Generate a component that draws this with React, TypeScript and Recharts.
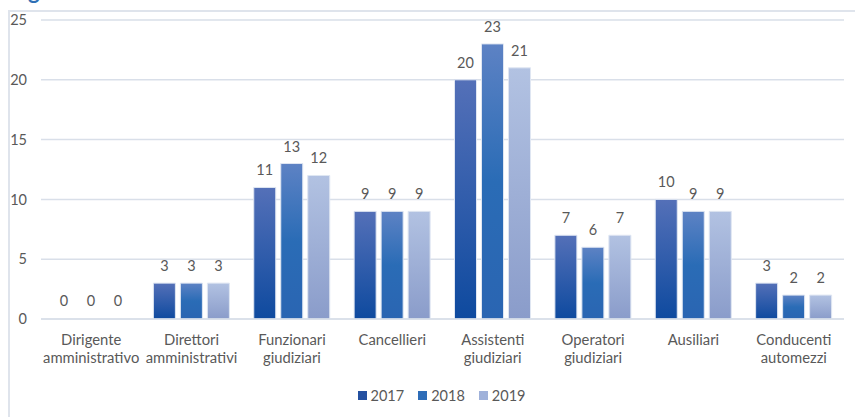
import React from "react";
import { BarChart, Bar, XAxis, YAxis, CartesianGrid, LabelList, Legend, Rectangle } from "recharts";

const categories = [
  "Dirigente\namministrativo",
  "Direttori\namministrativi",
  "Funzionari\ngiudiziari",
  "Cancellieri",
  "Assistenti\ngiudiziari",
  "Operatori\ngiudiziari",
  "Ausiliari",
  "Conducenti\nautomezzi",
];
const values2017 = [0, 3, 11, 9, 20, 7, 10, 3];
const values2018 = [0, 3, 13, 9, 23, 6, 9, 2];
const values2019 = [0, 3, 12, 9, 21, 7, 9, 2];
const yTicks = [0, 5, 10, 15, 20, 25];
const seriesNames = ["2017", "2018", "2019"];
const legendColors = ["#2450a0", "#2e6db8", "#9fb1da"];

const data = categories.map((c, i) => ({
  name: c,
  y2017: values2017[i],
  y2018: values2018[i],
  y2019: values2019[i],
}));

const FONT = "Lato, 'Open Sans', sans-serif";
const TEXT = "#595959";

const CatTick = (props: any) => {
  const { x, y, payload } = props;
  const lines = String(payload.value).split("\n");
  return (
    <g transform={`translate(${x},${y})`}>
      {lines.map((l, i) => (
        <text
          key={i}
          x={0}
          y={i * 18}
          dy={14}
          textAnchor="middle"
          fill={TEXT}
          fontSize={14.8}
          fontFamily={FONT}
        >
          {l}
        </text>
      ))}
    </g>
  );
};

const BarShape = (props: any) => {
  const { value } = props;
  const v = Array.isArray(value) ? value[1] - value[0] : value;
  if (!v) return null;
  return <Rectangle {...props} />;
};

const LegendContent = () => (
  <div
    style={{
      display: "flex",
      justifyContent: "center",
      alignItems: "center",
      fontFamily: FONT,
      fontSize: 14.5,
      color: TEXT,
    }}
  >
    {seriesNames.map((n, i) => (
      <span key={n} style={{ display: "inline-flex", alignItems: "center", margin: "0 7px" }}>
        <span
          style={{
            display: "inline-block",
            width: 9,
            height: 9,
            background: legendColors[i],
            marginRight: 4,
          }}
        />
        {n}
      </span>
    ))}
  </div>
);

export default function App() {
  return (
    <div style={{ position: "absolute", left: 0, top: 0, width: 855, height: 417, overflow: "hidden", background: "#fff" }}>
      <div
        style={{
          position: "absolute",
          left: 8,
          top: 10,
          width: 847,
          height: 407,
          borderTop: "2px solid #dfe4ec",
          borderLeft: "2px solid #dfe4ec",
          boxSizing: "border-box",
        }}
      />
      <span
        style={{
          position: "absolute",
          left: 28,
          top: -20,
          fontFamily: FONT,
          fontWeight: 700,
          fontSize: 22,
          lineHeight: "22px",
          color: "#2f6fb5",
        }}
      >
        g
      </span>
      <div style={{ position: "absolute", left: 0, top: 0 }}>
        <BarChart
          width={855}
          height={417}
          data={data}
          margin={{ top: 20, right: 11, left: 0, bottom: 28 }}
          barSize={22}
          barGap={5}
        >
          <defs>
            <linearGradient id="g2017" x1="0" y1="0" x2="0" y2="1">
              <stop offset="0%" stopColor="#5470b8" />
              <stop offset="100%" stopColor="#0e4a9f" />
            </linearGradient>
            <linearGradient id="g2018" x1="0" y1="0" x2="0" y2="1">
              <stop offset="0%" stopColor="#5d82c4" />
              <stop offset="50%" stopColor="#2a6cb6" />
              <stop offset="100%" stopColor="#2a65b2" />
            </linearGradient>
            <linearGradient id="g2019" x1="0" y1="0" x2="0" y2="1">
              <stop offset="0%" stopColor="#b2c2e2" />
              <stop offset="100%" stopColor="#8a9cca" />
            </linearGradient>
          </defs>
          <CartesianGrid vertical={false} stroke="#d9dfe9" strokeWidth={1.5} />
          <XAxis
            dataKey="name"
            axisLine={{ stroke: "#d9dfe9", strokeWidth: 1.5 }}
            tickLine={false}
            interval={0}
            height={70}
            tick={<CatTick />}
            tickMargin={6}
          />
          <YAxis
            width={41}
            domain={[0, 25]}
            ticks={yTicks}
            axisLine={false}
            tickLine={false}
            tickSize={0}
            tickMargin={14}
            tick={{ fill: TEXT, fontSize: 14.5, fontFamily: FONT }}
          />
          <Legend
            layout="horizontal"
            verticalAlign="middle"
            align="center"
            content={<LegendContent />}
            wrapperStyle={{ position: "absolute", top: 387, left: 14, width: 855 }}
          />
          <Bar dataKey="y2017" name="2017" fill="url(#g2017)" stroke="#dfe6f2" strokeWidth={1} minPointSize={1} shape={<BarShape />} isAnimationActive={false}>
            <LabelList dataKey="y2017" position="top" offset={12} fill={TEXT} fontSize={14.5} fontFamily={FONT} />
          </Bar>
          <Bar dataKey="y2018" name="2018" fill="url(#g2018)" stroke="#dfe6f2" strokeWidth={1} minPointSize={1} shape={<BarShape />} isAnimationActive={false}>
            <LabelList dataKey="y2018" position="top" offset={12} fill={TEXT} fontSize={14.5} fontFamily={FONT} />
          </Bar>
          <Bar dataKey="y2019" name="2019" fill="url(#g2019)" stroke="#dfe6f2" strokeWidth={1} minPointSize={1} shape={<BarShape />} isAnimationActive={false}>
            <LabelList dataKey="y2019" position="top" offset={12} fill={TEXT} fontSize={14.5} fontFamily={FONT} />
          </Bar>
        </BarChart>
      </div>
    </div>
  );
}
